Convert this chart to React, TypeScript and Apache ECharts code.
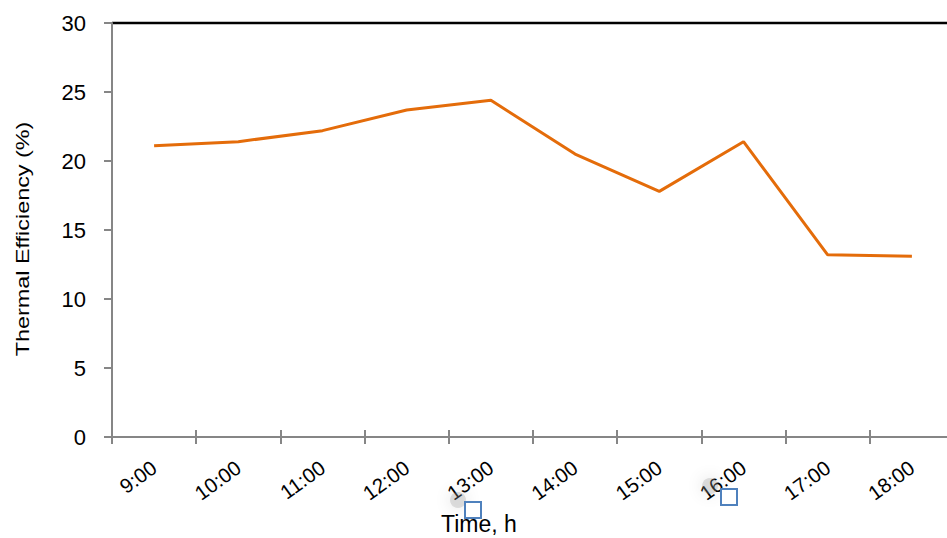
import React, { useEffect, useRef } from "react";
import * as echarts from "echarts";

const categories = ["9:00", "10:00", "11:00", "12:00", "13:00", "14:00", "15:00", "16:00", "17:00", "18:00"];
const efficiency = [21.1, 21.4, 22.2, 23.7, 24.4, 20.5, 17.8, 21.4, 13.2, 13.1];
const yTicks = { min: 0, max: 30, interval: 5 };
const yTitle = "Thermal Efficiency (%)";
const xTitle = "Time, h";

const FONT = "'Liberation Sans', Arial, sans-serif";

export default function App() {
  const ref = useRef<HTMLDivElement>(null);
  useEffect(() => {
    if (!ref.current) return;
    const chart = echarts.init(ref.current, null, { renderer: "svg" });
    const gridLeft = 112;
    const gridTop = 23;
    const gridW = 842;
    const gridH = 414;
    chart.setOption({
      animation: false,
      backgroundColor: "#ffffff",
      grid: { left: gridLeft, top: gridTop, width: gridW, height: gridH, containLabel: false },
      xAxis: [
        {
          type: "category",
          data: categories,
          boundaryGap: true,
          axisLine: { lineStyle: { color: "#868686", width: 2 } },
          axisTick: { show: true, inside: false, length: 7, lineStyle: { color: "#868686", width: 2 } },
          axisLabel: { rotate: 36, margin: 28, fontSize: 20.5, color: "#000", fontFamily: FONT },
          splitLine: { show: false },
        },
        {
          type: "category",
          data: categories,
          position: "bottom",
          boundaryGap: true,
          axisLine: { show: false },
          axisTick: { show: true, inside: true, length: 7, lineStyle: { color: "#868686", width: 2 } },
          axisLabel: { show: false },
          splitLine: { show: false },
        },
      ],
      yAxis: {
        type: "value",
        min: yTicks.min,
        max: yTicks.max,
        interval: yTicks.interval,
        axisLine: { show: true, lineStyle: { color: "#868686", width: 2 } },
        axisTick: { show: true, inside: false, length: 8, lineStyle: { color: "#868686", width: 2 } },
        axisLabel: { fontSize: 22, color: "#000", margin: 26, fontFamily: FONT },
        splitLine: { show: false },
      },
      series: [
        {
          type: "line",
          data: efficiency,
          symbol: "none",
          lineStyle: { color: "#E46C0A", width: 3 },
          itemStyle: { color: "#E46C0A" },
        },
      ],
      graphic: [
        { type: "line", shape: { x1: gridLeft, y1: gridTop, x2: 960, y2: gridTop }, style: { stroke: "#000", lineWidth: 2.5 } },
        {
          type: "text",
          x: 23,
          y: 239,
          rotation: Math.PI / 2,
          scaleX: 1.3,
          scaleY: 1,
          style: { text: yTitle, fontSize: 18, fill: "#000", fontFamily: FONT, align: "center", verticalAlign: "middle" },
          z: 5,
        },
        {
          type: "text",
          x: 441,
          y: 524,
          style: { text: xTitle, fontSize: 23, fill: "#000", fontFamily: FONT, align: "left", verticalAlign: "middle" },
          z: 5,
        },
        { type: "circle", shape: { cx: 458, cy: 500, r: 8 }, style: { fill: "rgba(150,150,150,0.3)", shadowBlur: 16, shadowColor: "rgba(0,0,0,0.4)" }, z: 6 },
        { type: "rect", shape: { x: 465, y: 502, width: 16, height: 16 }, style: { fill: "#fff", stroke: "#4F81BD", lineWidth: 2 }, z: 7 },
        { type: "circle", shape: { cx: 710, cy: 486, r: 8 }, style: { fill: "rgba(150,150,150,0.3)", shadowBlur: 16, shadowColor: "rgba(0,0,0,0.4)" }, z: 6 },
        { type: "rect", shape: { x: 721, y: 489, width: 16, height: 16 }, style: { fill: "#fff", stroke: "#4F81BD", lineWidth: 2 }, z: 7 },
      ],
    });
    return () => chart.dispose();
  }, []);
  return (
    <div style={{ width: 947, height: 538, position: "absolute", left: 0, top: 0, overflow: "hidden" }}>
      <div ref={ref} style={{ width: 960, height: 538 }} />
    </div>
  );
}
